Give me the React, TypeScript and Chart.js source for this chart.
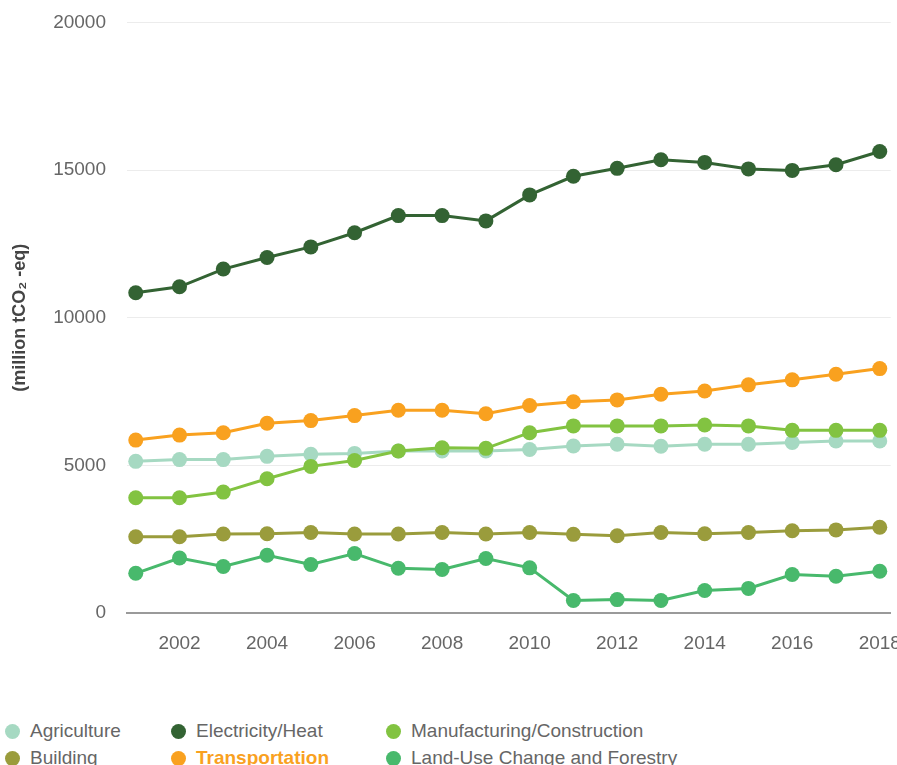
import React, { useEffect, useRef } from "react";
import { Chart, registerables } from "chart.js";

Chart.register(...registerables);

const years = [2001, 2002, 2003, 2004, 2005, 2006, 2007, 2008, 2009, 2010, 2011, 2012, 2013, 2014, 2015, 2016, 2017, 2018];
const xTickYears = [2002, 2004, 2006, 2008, 2010, 2012, 2014, 2016, 2018];
const yTickValues = [0, 5000, 10000, 15000, 20000];

const agriculture = [5140, 5200, 5200, 5310, 5380, 5410, 5490, 5490, 5490, 5540, 5660, 5720, 5650, 5720, 5720, 5780, 5830, 5830];
const electricityHeat = [10850, 11050, 11650, 12040, 12400, 12880, 13460, 13460, 13280, 14160, 14790, 15060, 15350, 15260, 15040, 14990, 15180, 15630];
const manufacturing = [3910, 3910, 4100, 4550, 4970, 5170, 5490, 5600, 5580, 6110, 6340, 6340, 6340, 6370, 6340, 6190, 6190, 6190];
const building = [2590, 2590, 2680, 2690, 2730, 2680, 2680, 2730, 2680, 2730, 2670, 2620, 2730, 2690, 2730, 2790, 2820, 2910];
const transportation = [5860, 6030, 6110, 6430, 6520, 6690, 6870, 6870, 6750, 7030, 7160, 7220, 7410, 7520, 7730, 7900, 8090, 8280];
const landUse = [1350, 1870, 1580, 1960, 1650, 2020, 1520, 1480, 1850, 1535, 430, 460, 430, 770, 840, 1310, 1250, 1420];

const FONT = "'Liberation Sans', Arial, Helvetica, sans-serif";

const series = [
  { name: "Manufacturing/Construction", data: manufacturing, color: "#82c341" },
  { name: "Agriculture", data: agriculture, color: "#a6d9c2" },
  { name: "Electricity/Heat", data: electricityHeat, color: "#336333" },
  { name: "Building", data: building, color: "#9a9c3c" },
  { name: "Transportation", data: transportation, color: "#f9a11f" },
  { name: "Land-Use Change and Forestry", data: landUse, color: "#48b96c" },
];

const legendItems = [
  { name: "Agriculture", color: "#a6d9c2", left: 5, top: 731, bold: false },
  { name: "Building", color: "#9a9c3c", left: 5, top: 758, bold: false },
  { name: "Electricity/Heat", color: "#336333", left: 171, top: 731, bold: false },
  { name: "Transportation", color: "#f9a11f", left: 171, top: 758, bold: true },
  { name: "Manufacturing/Construction", color: "#82c341", left: 386, top: 731, bold: false },
  { name: "Land-Use Change and Forestry", color: "#48b96c", left: 386, top: 758, bold: false },
];

export default function App() {
  const canvasRef = useRef<HTMLCanvasElement | null>(null);

  useEffect(() => {
    const canvas = canvasRef.current;
    if (!canvas) return;
    const chart = new Chart(canvas, {
      type: "line",
      data: {
        datasets: series.map((s) => ({
          label: s.name,
          data: years.map((y, i) => ({ x: y, y: s.data[i] })),
          borderColor: s.color,
          backgroundColor: s.color,
          pointBackgroundColor: s.color,
          pointBorderColor: s.color,
          pointBorderWidth: 0,
          pointRadius: 7.5,
          borderWidth: 3,
          tension: 0,
          fill: false,
        })),
      },
      options: {
        responsive: false,
        animation: false,
        layout: { padding: { top: 0, left: 0, right: 0, bottom: 0 } },
        plugins: {
          legend: { display: false },
          tooltip: { enabled: false },
        },
        scales: {
          x: {
            type: "linear",
            min: 2000.8,
            max: 2018.25,
            afterBuildTicks: (scale: any) => {
              scale.ticks = xTickYears.map((v) => ({ value: v }));
            },
            ticks: {
              color: "#666",
              font: { family: FONT, size: 19 },
              padding: 19,
              maxRotation: 0,
              autoSkip: false,
              callback: (v: any) => String(v),
            },
            grid: { display: false, drawTicks: false },
            border: { display: true, color: "#9a9a9a", width: 2 },
          },
          y: {
            type: "linear",
            min: 0,
            max: 20000,
            afterBuildTicks: (scale: any) => {
              scale.ticks = yTickValues.map((v) => ({ value: v }));
            },
            afterFit: (scale: any) => {
              scale.width = 119;
            },
            ticks: {
              color: "#666",
              font: { family: FONT, size: 19 },
              padding: 21,
              callback: (v: any) => String(v),
            },
            grid: { color: "#ececec", lineWidth: 1, drawTicks: false },
            border: { display: false },
            title: {
              display: true,
              text: "(million tCO\u2082 -eq)",
              color: "#444",
              font: { family: FONT, size: 18, weight: "bold" },
              padding: { top: 1, bottom: 0 },
            },
          },
        },
      },
    });
    return () => chart.destroy();
  }, []);

  return (
    <div style={{ position: "fixed", left: 0, top: 0, width: 897, height: 765, overflow: "hidden", background: "#fff" }}>
      <div style={{ position: "absolute", left: 8, top: -10 }}>
        <canvas ref={canvasRef} width={912} height={684} style={{ display: "block" }} />
      </div>
      {legendItems.map((it) => (
        <div
          key={it.name}
          style={{
            position: "absolute",
            left: it.left,
            top: it.top - 12,
            height: 24,
            display: "flex",
            alignItems: "center",
            whiteSpace: "nowrap",
            fontFamily: FONT,
            fontSize: 19,
            color: it.bold ? it.color : "#666",
            fontWeight: it.bold ? "bold" : "normal",
          }}
        >
          <span style={{ display: "inline-block", width: 15, height: 15, borderRadius: "50%", background: it.color, marginRight: 10 }} />
          <span>{it.name}</span>
        </div>
      ))}
    </div>
  );
}
